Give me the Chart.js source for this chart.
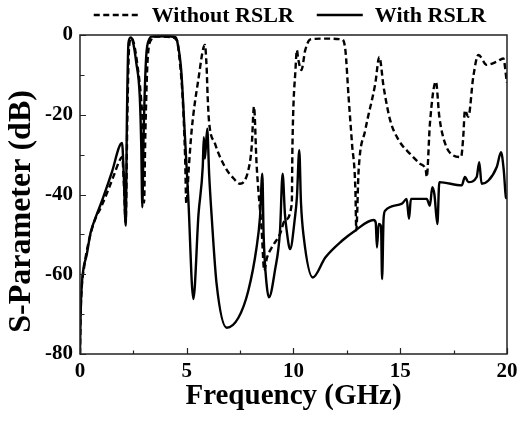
<!DOCTYPE html>
<html>
<head>
<meta charset="utf-8">
<script src="https://cdn.jsdelivr.net/npm/chart.js@4/dist/chart.umd.min.js"></script>
<style>
html,body{margin:0;padding:0;background:#fff;}
#wrap{width:517px;height:421px;}
</style>
</head>
<body>
<div id="wrap"><canvas id="c" width="517" height="421"></canvas></div>
<script>
// Frequency (GHz) / S-parameter (dB) — With RSLR (solid)
const freqWith = [0,0.03,0.08,0.18,0.3,0.5,0.75,1.0,1.47,1.97,2.05,2.14,2.2,2.27,2.37,2.47,2.64,2.8,2.87,2.92,2.98,3.1,3.25,3.34,4.0,4.45,4.55,4.74,4.9,5.07,5.31,5.55,5.75,5.8,5.85,5.96,6.05,6.17,6.4,6.87,7.42,7.88,8.27,8.43,8.54,8.6,8.74,8.85,9.13,9.37,9.49,9.6,9.68,9.84,10.07,10.16,10.27,10.35,10.48,10.9,11.49,12.27,12.9,13.75,13.85,13.91,13.99,14.1,14.15,14.22,14.3,15.08,15.3,15.41,15.5,16.24,16.39,16.5,16.6,16.74,16.83,17.88,18.03,18.19,18.58,18.7,18.81,19.13,19.52,19.72,19.85,19.95,20];
const sWith = [-80,-70,-63,-58,-55.5,-49.5,-45.5,-42,-34.8,-27.1,-35,-47.8,-20,-2,-0.6,-1.5,-7.1,-15.5,-28,-43.2,-25,-5.5,-1,-0.4,-0.3,-0.5,-1.5,-8.8,-23.9,-40.7,-66.2,-45,-33,-25.6,-31,-23.5,-35,-45.7,-62.5,-73.4,-70.9,-64.2,-53.3,-45.7,-34.8,-50,-62.5,-65.8,-59.1,-49,-34.8,-45,-49,-53.7,-45.7,-40.7,-28.9,-42,-50.7,-60.8,-55.8,-51.6,-49,-46.4,-47,-53.3,-47.4,-48,-61.2,-46,-44,-42.3,-41.1,-46.1,-41.1,-41.1,-42.8,-38.2,-40,-47.4,-36.9,-37.7,-35.6,-36.9,-35.6,-31.9,-37.3,-36.5,-33.1,-29.4,-34,-40.7,-41];

// Without RSLR (dashed)
const freqWithout = [0,0.03,0.08,0.2,0.4,0.69,1.0,1.31,1.6,1.86,1.98,2.06,2.14,2.22,2.3,2.4,2.52,2.7,2.86,2.95,3.0,3.06,3.17,3.35,3.5,4.2,4.55,4.62,4.8,4.92,4.98,5.1,5.23,5.54,5.85,5.93,5.98,6.04,6.32,6.79,7.2,7.49,7.88,8.04,8.15,8.27,8.51,8.63,8.75,8.98,9.37,9.6,9.92,9.95,10.1,10.16,10.22,10.37,10.55,10.79,11.5,12.27,12.43,12.58,12.74,12.9,12.94,13.05,13.36,13.83,14.02,14.22,14.53,14.93,15.46,15.93,16.2,16.24,16.39,16.67,16.83,17.1,17.49,17.85,17.95,18.03,18.19,18.42,18.66,19.05,19.52,19.83,19.98,20];
const sWithout = [-80,-70,-63.5,-58,-52,-46.5,-43,-39,-35,-31.4,-30.6,-38,-47,-20,-3,-0.8,-2,-8,-16,-25,-42,-25,-6,-1,-0.4,-0.5,-1.5,-4,-15,-30,-42.3,-33,-23.9,-11.3,-2.5,-8,-15.5,-21.4,-27.2,-33.1,-36,-37.3,-34,-28.1,-18,-32.3,-49,-59.1,-56,-53.3,-49.9,-46.5,-42.3,-28.1,-8,-3.8,-6,-8.8,-3.8,-1.1,-0.9,-1.1,-3.8,-15.5,-27.2,-39,-49,-34,-23.9,-12.2,-5.5,-13,-21.4,-26.4,-29.8,-32.3,-34,-35.6,-22.2,-11.7,-20.5,-27.2,-30.2,-30.6,-25.6,-18.9,-20.5,-10.5,-5,-7.5,-6.7,-5.9,-11.3,-12];

const xTicks = [0,5,10,15,20];
const yTicks = [-80,-60,-40,-20,0];
const seriesNames = ['Without RSLR','With RSLR'];
const xTitle = 'Frequency (GHz)';
const yTitle = 'S-Parameter (dB)';

const toPts = (xs, ys) => xs.map((x, i) => ({x: x, y: ys[i]}));

const FONT = '"Liberation Serif", "Times New Roman", serif';

const framePlugin = {
  id: 'frame',
  afterDatasetsDraw(chart) {
    const ctx = chart.ctx;
    const {left, right, top, bottom} = chart.chartArea;
    const xs = chart.scales.x, ys = chart.scales.y;
    ctx.save();
    ctx.strokeStyle = '#222';
    ctx.lineWidth = 1.5;
    ctx.setLineDash([]);
    ctx.strokeRect(left, top, right - left, bottom - top);
    ctx.lineWidth = 1.2;
    ctx.beginPath();
    for (let v = 0; v <= 20; v += 2.5) {
      const px = Math.round(xs.getPixelForValue(v)) + 0.5;
      const len = (v % 5 === 0) ? 6 : 3.5;
      ctx.moveTo(px, bottom);
      ctx.lineTo(px, bottom - len);
    }
    for (let v = -80; v <= 0; v += 10) {
      const py = Math.round(ys.getPixelForValue(v)) + 0.5;
      const len = (v % 20 === 0) ? 6 : 4.5;
      ctx.moveTo(left, py);
      ctx.lineTo(left + len, py);
    }
    ctx.stroke();
    ctx.restore();
  }
};

// Legend above the plot and the rotated y-axis title
const textPlugin = {
  id: 'texts',
  afterDraw(chart) {
    const ctx = chart.ctx;
    const {left, right, top, bottom} = chart.chartArea;
    const lineLen = 46, textGap = 12, itemGap = 23, yMid = 15;
    ctx.save();
    ctx.font = 'bold 22px ' + FONT;
    const items = chart.data.datasets.map(ds => ({ds, w: ctx.measureText(ds.label).width}));
    const total = items.reduce((s, it) => s + lineLen + textGap + it.w, 0) + itemGap * (items.length - 1);
    let x = (left + right) / 2 - 3.5 - total / 2;
    ctx.textBaseline = 'middle';
    ctx.fillStyle = '#000';
    items.forEach(it => {
      ctx.beginPath();
      ctx.strokeStyle = it.ds.borderColor;
      ctx.lineWidth = it.ds.borderWidth;
      ctx.setLineDash(it.ds.borderDash || []);
      ctx.moveTo(x, yMid);
      ctx.lineTo(x + lineLen, yMid);
      ctx.stroke();
      ctx.setLineDash([]);
      ctx.fillText(it.ds.label, x + lineLen + textGap, yMid + 1);
      x += lineLen + textGap + it.w + itemGap;
    });
    // y-axis title
    ctx.font = 'bold 32px ' + FONT;
    ctx.textAlign = 'center';
    ctx.textBaseline = 'middle';
    ctx.translate(22, top + (bottom - top) * 0.553);
    ctx.rotate(-Math.PI / 2);
    ctx.fillText(yTitle, 0, 0);
    ctx.restore();
  }
};

new Chart(document.getElementById('c'), {
  type: 'line',
  data: {
    datasets: [
      {
        label: seriesNames[0],
        data: toPts(freqWithout, sWithout),
        borderColor: '#000',
        backgroundColor: '#000',
        borderWidth: 2.4,
        borderDash: [6, 3.5],
        pointRadius: 0,
        fill: false,
        cubicInterpolationMode: 'monotone'
      },
      {
        label: seriesNames[1],
        data: toPts(freqWith, sWith),
        borderColor: '#000',
        backgroundColor: '#000',
        borderWidth: 2.4,
        pointRadius: 0,
        fill: false,
        cubicInterpolationMode: 'monotone'
      }
    ]
  },
  options: {
    responsive: false,
    animation: false,
    devicePixelRatio: 1,
    layout: {padding: {left: 38, right: 0, top: 35, bottom: 0}},
    plugins: {
      legend: {display: false},
      tooltip: {enabled: false}
    },
    scales: {
      x: {
        type: 'linear',
        min: 0, max: 20,
        afterBuildTicks: (s) => { s.ticks = xTicks.map(v => ({value: v})); },
        afterFit: (s) => { s.paddingRight = 10; },
        grid: {display: false, drawTicks: false},
        border: {display: false},
        ticks: {color: '#000', padding: 7, font: {family: FONT, size: 21, weight: 'bold', lineHeight: 1}},
        title: {display: true, text: xTitle, color: '#000', padding: {top: -7, bottom: 10},
                font: {family: FONT, size: 29, weight: 'bold', lineHeight: 1}}
      },
      y: {
        type: 'linear',
        min: -80, max: 0,
        afterBuildTicks: (s) => { s.ticks = yTicks.map(v => ({value: v})); },
        grid: {display: false, drawTicks: false},
        border: {display: false},
        ticks: {color: '#000', padding: 7, font: {family: FONT, size: 21, weight: 'bold', lineHeight: 1}},
        title: {display: false}
      }
    }
  },
  plugins: [framePlugin, textPlugin]
});
</script>
</body>
</html>
